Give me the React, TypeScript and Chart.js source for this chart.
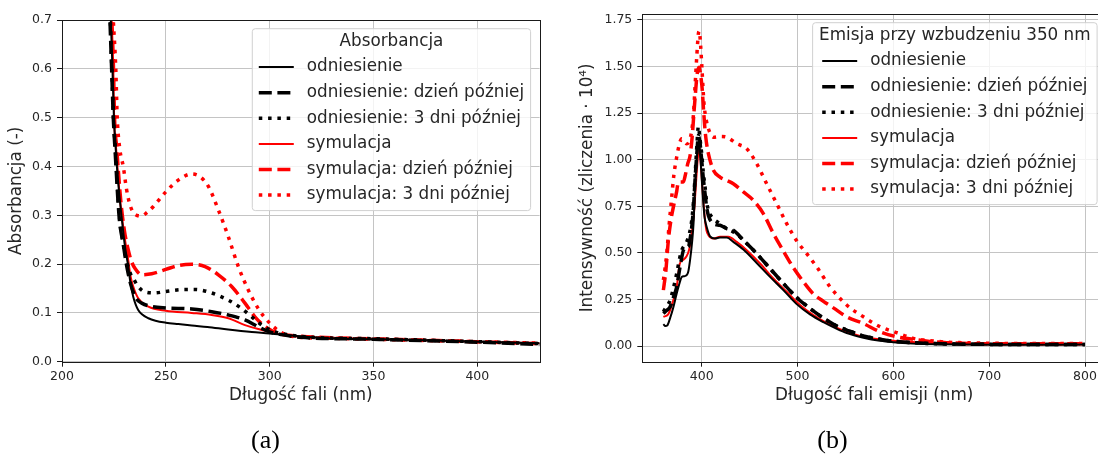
import React, { useEffect, useRef } from "react";
import { Chart, registerables } from "chart.js";

Chart.register(...registerables);

// ---------- shared labels ----------
const seriesLabels = [
  "odniesienie",
  "odniesienie: dzień później",
  "odniesienie: 3 dni później",
  "symulacja",
  "symulacja: dzień później",
  "symulacja: 3 dni później",
];

// ---------- panel (a): absorbance ----------
const absLegendTitle = "Absorbancja";
const absXTitle = "Długość fali (nm)";
const absYTitle = "Absorbancja (-)";
const absXTicks = [200, 250, 300, 350, 400];
const absYTicks = [0, 0.1, 0.2, 0.3, 0.4, 0.5, 0.6, 0.7];

const absRefX = [221, 223.5, 224.3, 225.0, 225.9, 227.0, 228.7, 230.2, 231.9, 233.0, 234.3, 235.5, 236.7, 238.5, 241.6, 245, 250, 256, 262.5, 270, 280, 291.4, 300, 312, 327, 350, 375, 400, 430];
const absRefY = [1.0, 0.70, 0.60, 0.50, 0.434, 0.37, 0.297, 0.24, 0.195, 0.16, 0.133, 0.117, 0.106, 0.097, 0.089, 0.084, 0.080, 0.077, 0.074, 0.071, 0.066, 0.061, 0.058, 0.053, 0.048, 0.046, 0.044, 0.041, 0.038];

const absRef1X = [221, 223.1, 223.9, 224.7, 225.6, 227.5, 229.5, 231.2, 233.0, 234.3, 236.0, 238.4, 243.2, 250, 262.5, 272.1, 280.1, 288.1, 294.5, 300, 306.4, 315, 350, 400, 430];
const absRef1Y = [1.0, 0.70, 0.60, 0.50, 0.43, 0.297, 0.24, 0.195, 0.16, 0.143, 0.128, 0.120, 0.113, 0.110, 0.108, 0.1025, 0.0957, 0.0855, 0.0717, 0.061, 0.055, 0.050, 0.046, 0.040, 0.035];

const absRef3X = [221, 223.3, 224.0, 224.8, 225.8, 227.6, 229.6, 231.5, 233.0, 234.3, 236.7, 240, 244.8, 250, 259.2, 264, 270.5, 280.1, 286.5, 291.4, 296.2, 302.6, 309, 320, 350, 400, 430];
const absRef3Y = [1.0, 0.70, 0.60, 0.50, 0.43, 0.30, 0.24, 0.20, 0.18, 0.171, 0.154, 0.143, 0.141, 0.144, 0.148, 0.148, 0.143, 0.126, 0.109, 0.092, 0.075, 0.061, 0.055, 0.050, 0.047, 0.041, 0.037];

const absSimX = [221, 223.9, 224.7, 225.1, 226.0, 228.0, 230.0, 231.9, 233.0, 234.3, 236.7, 241.6, 250, 262.5, 272.1, 280.1, 288.1, 296.2, 302.6, 312, 330, 350, 400, 430];
const absSimY = [1.0, 0.70, 0.60, 0.50, 0.44, 0.33, 0.26, 0.208, 0.175, 0.154, 0.130, 0.113, 0.1045, 0.100, 0.0957, 0.089, 0.075, 0.065, 0.058, 0.052, 0.049, 0.047, 0.041, 0.038];

const absSim1X = [221, 224.0, 224.8, 225.3, 226.3, 228.3, 230.0, 231.9, 233.5, 235.2, 238.4, 243.2, 250, 256, 262.5, 268.9, 275.3, 281.7, 288.1, 292.9, 297.8, 304.2, 312.2, 330, 350, 400, 430];
const absSim1Y = [1.0, 0.70, 0.60, 0.50, 0.44, 0.33, 0.27, 0.229, 0.205, 0.191, 0.178, 0.180, 0.189, 0.197, 0.1995, 0.195, 0.178, 0.154, 0.120, 0.092, 0.072, 0.058, 0.053, 0.049, 0.047, 0.041, 0.037];

const absSim3X = [221, 224.7, 225.9, 226.6, 227.9, 229.5, 231.0, 232.5, 234.0, 236.0, 238.4, 241, 244, 250, 256, 262.5, 266.5, 270.5, 275.3, 280.1, 284.9, 289.7, 294.5, 300, 306.4, 312.2, 330, 350, 400, 430];
const absSim3Y = [1.0, 0.70, 0.60, 0.50, 0.434, 0.40, 0.355, 0.325, 0.308, 0.300, 0.2986, 0.306, 0.318, 0.348, 0.372, 0.3846, 0.379, 0.359, 0.311, 0.256, 0.195, 0.147, 0.109, 0.079, 0.058, 0.051, 0.048, 0.046, 0.041, 0.038];

// ---------- panel (b): emission ----------
const emLegendTitle = "Emisja przy wzbudzeniu 350 nm";
const emXTitle = "Długość fali emisji (nm)";
const emYTitle = "Intensywność (zliczenia · 10⁴)";
const emXTicks = [400, 500, 600, 700, 800];
const emYTicks = [0, 0.25, 0.5, 0.75, 1.0, 1.25, 1.5, 1.75];

const emRefX = [360, 362, 364, 367, 370, 373.9, 377, 379.1, 382, 384.3, 386, 387.8, 390, 391.5, 393, 394.5, 396, 397.2, 398.5, 400, 401.5, 403, 405.2, 408.7, 413.9, 419.1, 426.1, 433, 443.5, 457.4, 471.3, 485.2, 499.1, 513, 527, 540, 551.3, 568.7, 586, 600, 620, 650, 700, 750, 800];
const emRefY = [0.118, 0.107, 0.110, 0.150, 0.20, 0.282, 0.34, 0.371, 0.375, 0.38, 0.40, 0.46, 0.56, 0.66, 0.853, 0.98, 1.08, 1.10, 1.02, 0.90, 0.78, 0.69, 0.639, 0.589, 0.577, 0.582, 0.582, 0.559, 0.518, 0.446, 0.371, 0.30, 0.225, 0.170, 0.128, 0.095, 0.070, 0.045, 0.028, 0.020, 0.013, 0.009, 0.007, 0.007, 0.008];

const emRef1X = [360, 363, 367, 370.4, 373.9, 377.4, 380.9, 384, 386.1, 388, 389.6, 391.5, 393, 395, 396.5, 398, 400, 401.7, 403.5, 405, 407, 412.2, 419.1, 426.1, 433, 443.5, 457.4, 471.3, 485.2, 499.1, 513, 527, 540, 551.3, 568.7, 586, 600, 620, 650, 700, 750, 800];
const emRef1Y = [0.175, 0.19, 0.21, 0.26, 0.318, 0.425, 0.514, 0.53, 0.532, 0.58, 0.639, 0.75, 0.889, 1.04, 1.13, 1.10, 0.996, 0.90, 0.818, 0.75, 0.70, 0.657, 0.648, 0.630, 0.621, 0.568, 0.496, 0.416, 0.336, 0.260, 0.202, 0.150, 0.110, 0.086, 0.054, 0.036, 0.026, 0.018, 0.012, 0.009, 0.008, 0.008];

const emRef3X = [360, 363, 367, 370.4, 373.9, 376.5, 379.1, 382, 384.3, 387, 389.6, 391.5, 393, 395, 396.5, 398, 400, 401.7, 403.5, 405, 407, 412.2, 419.1, 426.1, 433, 443.5, 457.4, 471.3, 485.2, 499.1, 513, 527, 540, 551.3, 568.7, 586, 600, 620, 650, 700, 750, 800];
const emRef3Y = [0.184, 0.21, 0.246, 0.31, 0.389, 0.46, 0.514, 0.54, 0.559, 0.60, 0.675, 0.78, 0.907, 1.08, 1.178, 1.12, 1.032, 0.93, 0.854, 0.78, 0.729, 0.684, 0.657, 0.630, 0.6125, 0.568, 0.496, 0.416, 0.336, 0.262, 0.202, 0.150, 0.110, 0.086, 0.054, 0.036, 0.026, 0.018, 0.012, 0.009, 0.008, 0.008];

const emSimX = [360, 365, 370, 374, 377, 380, 384, 387, 389.5, 392, 394.7, 396.5, 397.5, 398.5, 400, 401.7, 403.5, 405, 407, 412.2, 419.1, 427.8, 436.5, 447, 460.9, 474.8, 488.7, 502.6, 516.5, 530.4, 540, 551.3, 568.7, 586, 600, 620, 650, 700, 750, 800];
const emSimY = [0.157, 0.17, 0.24, 0.32, 0.44, 0.46, 0.48, 0.52, 0.60, 0.72, 0.925, 1.04, 1.068, 1.02, 0.907, 0.78, 0.675, 0.62, 0.595, 0.577, 0.586, 0.586, 0.559, 0.514, 0.443, 0.3625, 0.291, 0.220, 0.166, 0.125, 0.100, 0.077, 0.050, 0.036, 0.028, 0.022, 0.014, 0.009, 0.009, 0.010];

const emSim1X = [360, 362.5, 365.2, 368, 370.4, 373.9, 375.6, 378, 380.8, 383, 385.5, 387.8, 390, 392, 393.5, 395, 396.5, 397.5, 399, 400.5, 402, 403.5, 405, 407, 412.2, 419.1, 426.1, 433, 443.5, 453.9, 464.3, 474.8, 485.2, 495.7, 506.1, 516.5, 527, 537.4, 551.3, 568.7, 586, 603.4, 620.8, 638, 655.6, 700, 750, 800];
const emSim1Y = [0.30, 0.40, 0.568, 0.68, 0.746, 0.83, 0.88, 0.88, 0.88, 0.92, 0.98, 1.02, 1.12, 1.26, 1.36, 1.45, 1.49, 1.496, 1.45, 1.38, 1.26, 1.157, 1.09, 1.032, 0.943, 0.907, 0.889, 0.871, 0.827, 0.782, 0.711, 0.604, 0.51, 0.42, 0.345, 0.28, 0.24, 0.205, 0.157, 0.121, 0.077, 0.050, 0.036, 0.025, 0.018, 0.012, 0.012, 0.012];

const emSim3X = [360, 361.8, 363.5, 366, 368.7, 371, 373.9, 377, 379.1, 381.5, 384.3, 387, 389.6, 391.5, 393, 394.8, 396.5, 397.5, 398.5, 400, 401.2, 402.4, 404.5, 407, 412.2, 419.1, 426.1, 436.5, 447, 457.4, 467.8, 478.3, 488.7, 499.1, 509.6, 520, 533.9, 551.3, 568.7, 586, 603.4, 620.8, 638.2, 655.6, 673, 700, 750, 800];
const emSim3Y = [0.354, 0.42, 0.496, 0.65, 0.80, 0.92, 1.014, 1.09, 1.112, 1.10, 1.086, 1.10, 1.157, 1.25, 1.389, 1.55, 1.675, 1.69, 1.64, 1.514, 1.40, 1.30, 1.22, 1.166, 1.121, 1.125, 1.121, 1.086, 1.059, 0.979, 0.871, 0.764, 0.657, 0.565, 0.496, 0.425, 0.318, 0.22, 0.157, 0.104, 0.072, 0.041, 0.029, 0.021, 0.018, 0.015, 0.014, 0.014];

// ---------- styles ----------
const FONT = "'DejaVu Sans', 'Noto Sans', sans-serif";
const TEXT = "#262626";
const GRID = "#c4c4c4";
const LABEL_SIZE = 16.8;
const seriesStyles = [
  { color: "#000000", width: 2, dash: [] as number[] },
  { color: "#000000", width: 3.5, dash: [13, 5.6] },
  { color: "#000000", width: 3.5, dash: [3.5, 5.8] },
  { color: "#ff0000", width: 2, dash: [] as number[] },
  { color: "#ff0000", width: 3.5, dash: [13, 5.6] },
  { color: "#ff0000", width: 3.5, dash: [3.5, 5.8] },
];

function zip(xs: number[], ys: number[]) {
  return xs.map((x, i) => ({ x, y: ys[i] }));
}

function buildDatasets(pairs: [number[], number[]][]) {
  return pairs.map(([xs, ys], i) => ({
    label: seriesLabels[i],
    data: zip(xs, ys),
    borderColor: seriesStyles[i].color,
    backgroundColor: seriesStyles[i].color,
    borderWidth: seriesStyles[i].width,
    borderDash: seriesStyles[i].dash,
    borderCapStyle: "butt" as const,
    pointRadius: 0,
    cubicInterpolationMode: "monotone" as const,
    fill: false,
    clip: 0,
  }));
}

function framePlugin() {
  return {
    id: "frame",
    afterDatasetsDraw(chart: any) {
      const { ctx, chartArea: a } = chart;
      ctx.save();
      ctx.strokeStyle = "#1a1a1a";
      ctx.lineWidth = 1;
      ctx.setLineDash([]);
      ctx.strokeRect(Math.round(a.left) + 0.5, Math.round(a.top) + 0.5, Math.round(a.right - a.left), Math.round(a.bottom - a.top));
      ctx.restore();
    },
  };
}

function legendPlugin(title: string) {
  return {
    id: "mplLegend",
    afterDraw(chart: any) {
      const { ctx, chartArea: area } = chart;
      const ds = chart.data.datasets;
      ctx.save();
      ctx.font = `${LABEL_SIZE}px ${FONT}`;
      const labelW = Math.max(...ds.map((d: any) => ctx.measureText(d.label).width));
      const titleW = ctx.measureText(title).width;
      const sampleLen = 35, gap = 13, pad = 6.5;
      const entriesW = sampleLen + gap + labelW;
      const contentW = Math.max(entriesW, titleW);
      const w = contentW + 2 * pad;
      const h = 38.4 + (ds.length - 1) * 25.6 + 15.5;
      const right = area.right - 9;
      const left = right - w;
      const top = area.top + 8.7;
      const r = 3;
      ctx.beginPath();
      ctx.moveTo(left + r, top);
      ctx.lineTo(right - r, top);
      ctx.arcTo(right, top, right, top + r, r);
      ctx.lineTo(right, top + h - r);
      ctx.arcTo(right, top + h, right - r, top + h, r);
      ctx.lineTo(left + r, top + h);
      ctx.arcTo(left, top + h, left, top + h - r, r);
      ctx.lineTo(left, top + r);
      ctx.arcTo(left, top, left + r, top, r);
      ctx.closePath();
      ctx.fillStyle = "rgba(255,255,255,0.8)";
      ctx.fill();
      ctx.strokeStyle = "#d0d0d0";
      ctx.lineWidth = 1;
      ctx.stroke();

      ctx.fillStyle = TEXT;
      ctx.textBaseline = "middle";
      ctx.textAlign = "center";
      ctx.fillText(title, left + w / 2, top + 13.4);

      const ex = left + pad + (contentW - entriesW) / 2;
      ds.forEach((d: any, i: number) => {
        const y = top + 38.4 + i * 25.6;
        ctx.beginPath();
        ctx.setLineDash(d.borderDash || []);
        ctx.lineWidth = d.borderWidth;
        ctx.strokeStyle = d.borderColor;
        ctx.lineCap = "butt";
        ctx.moveTo(ex, y);
        ctx.lineTo(ex + sampleLen, y);
        ctx.stroke();
        ctx.setLineDash([]);
        ctx.fillStyle = TEXT;
        ctx.textAlign = "left";
        ctx.fillText(d.label, ex + sampleLen + gap, y);
      });
      ctx.restore();
    },
  };
}

type PanelCfg = {
  width: number;
  height: number;
  padding: { left: number; top: number; right: number; bottom: number };
  yAxisWidth: number;
  xAxisHeight: number;
  xMin: number;
  xMax: number;
  yMin: number;
  yMax: number;
  xTicks: number[];
  yTicks: number[];
  yDecimals: number;
  xTitle: string;
  yTitle: string;
  yTitlePad: number;
  legendTitle: string;
  pairs: [number[], number[]][];
};

function Panel({ cfg, style }: { cfg: PanelCfg; style: React.CSSProperties }) {
  const ref = useRef<HTMLCanvasElement | null>(null);
  useEffect(() => {
    if (!ref.current) return;
    const tickFont = { family: FONT, size: 12.5 };
    const titleFont = { family: FONT, size: LABEL_SIZE };
    const chart = new Chart(ref.current, {
      type: "line",
      data: { datasets: buildDatasets(cfg.pairs) as any },
      options: {
        responsive: false,
        animation: false,
        devicePixelRatio: 1,
        layout: { padding: cfg.padding },
        plugins: { legend: { display: false }, tooltip: { enabled: false } },
        scales: {
          x: {
            type: "linear",
            min: cfg.xMin,
            max: cfg.xMax,
            afterBuildTicks: (s: any) => {
              s.ticks = cfg.xTicks.map((v) => ({ value: v }));
            },
            afterFit: (s: any) => {
              s.height = cfg.xAxisHeight;
            },
            grid: { color: GRID, lineWidth: 1, drawTicks: true, tickLength: 5, tickColor: "#1a1a1a", tickWidth: 1 },
            border: { display: false },
            ticks: {
              color: TEXT,
              font: tickFont,
              padding: 3,
              maxRotation: 0,
              autoSkip: false,
              callback: (v: any) => String(Math.round(Number(v))),
            },
            title: { display: true, text: cfg.xTitle, color: TEXT, font: titleFont, padding: { top: 0, bottom: 6 } },
          },
          y: {
            type: "linear",
            min: cfg.yMin,
            max: cfg.yMax,
            afterBuildTicks: (s: any) => {
              s.ticks = cfg.yTicks.map((v) => ({ value: v }));
            },
            afterFit: (s: any) => {
              s.width = cfg.yAxisWidth;
            },
            grid: { color: GRID, lineWidth: 1, drawTicks: true, tickLength: 5, tickColor: "#1a1a1a", tickWidth: 1 },
            border: { display: false },
            ticks: {
              color: TEXT,
              font: tickFont,
              padding: 5,
              autoSkip: false,
              callback: (v: any) => Number(v).toFixed(cfg.yDecimals),
            },
            title: { display: true, text: cfg.yTitle, color: TEXT, font: titleFont, padding: { top: cfg.yTitlePad, bottom: 0 } },
          },
        },
      },
      plugins: [framePlugin(), legendPlugin(cfg.legendTitle)],
    });
    return () => chart.destroy();
  }, [cfg]);
  return <canvas ref={ref} width={cfg.width} height={cfg.height} style={{ position: "absolute", ...style }} />;
}

const absCfg: PanelCfg = {
  width: 560,
  height: 454,
  padding: { left: 0, top: 20, right: 20.4, bottom: 42.3 },
  yAxisWidth: 62,
  xAxisHeight: 50,
  xMin: 200,
  xMax: 430,
  yMin: 0,
  yMax: 0.7,
  xTicks: absXTicks,
  yTicks: absYTicks,
  yDecimals: 1,
  xTitle: absXTitle,
  yTitle: absYTitle,
  yTitlePad: 7,
  legendTitle: absLegendTitle,
  pairs: [
    [absRefX, absRefY],
    [absRef1X, absRef1Y],
    [absRef3X, absRef3Y],
    [absSimX, absSimY],
    [absSim1X, absSim1Y],
    [absSim3X, absSim3Y],
  ],
};

const emCfg: PanelCfg = {
  width: 570,
  height: 454,
  padding: { left: 0, top: 14, right: 23.9, bottom: 42.3 },
  yAxisWidth: 82.3,
  xAxisHeight: 50,
  xMin: 338,
  xMax: 822,
  yMin: -0.084,
  yMax: 1.782,
  xTicks: emXTicks,
  yTicks: emYTicks,
  yDecimals: 2,
  xTitle: emXTitle,
  yTitle: emYTitle,
  yTitlePad: 18,
  legendTitle: emLegendTitle,
  pairs: [
    [emRefX, emRefY],
    [emRef1X, emRef1Y],
    [emRef3X, emRef3Y],
    [emSimX, emSimY],
    [emSim1X, emSim1Y],
    [emSim3X, emSim3Y],
  ],
};

const captionStyle: React.CSSProperties = {
  position: "absolute",
  top: 427,
  width: 100,
  textAlign: "center",
  fontFamily: "'Liberation Serif', 'DejaVu Serif', serif",
  fontSize: 26,
  lineHeight: "26px",
  color: "#000",
};

export default function App() {
  return (
    <div
      style={{
        position: "absolute",
        left: 0,
        top: 0,
        width: 1098,
        height: 454,
        overflow: "hidden",
        background: "#ffffff",
      }}
    >
      <Panel cfg={absCfg} style={{ left: 0, top: 0 }} />
      <Panel cfg={emCfg} style={{ left: 560, top: 0 }} />
      <div style={{ ...captionStyle, left: 215.5 }}>(a)</div>
      <div style={{ ...captionStyle, left: 782.5 }}>(b)</div>
    </div>
  );
}
